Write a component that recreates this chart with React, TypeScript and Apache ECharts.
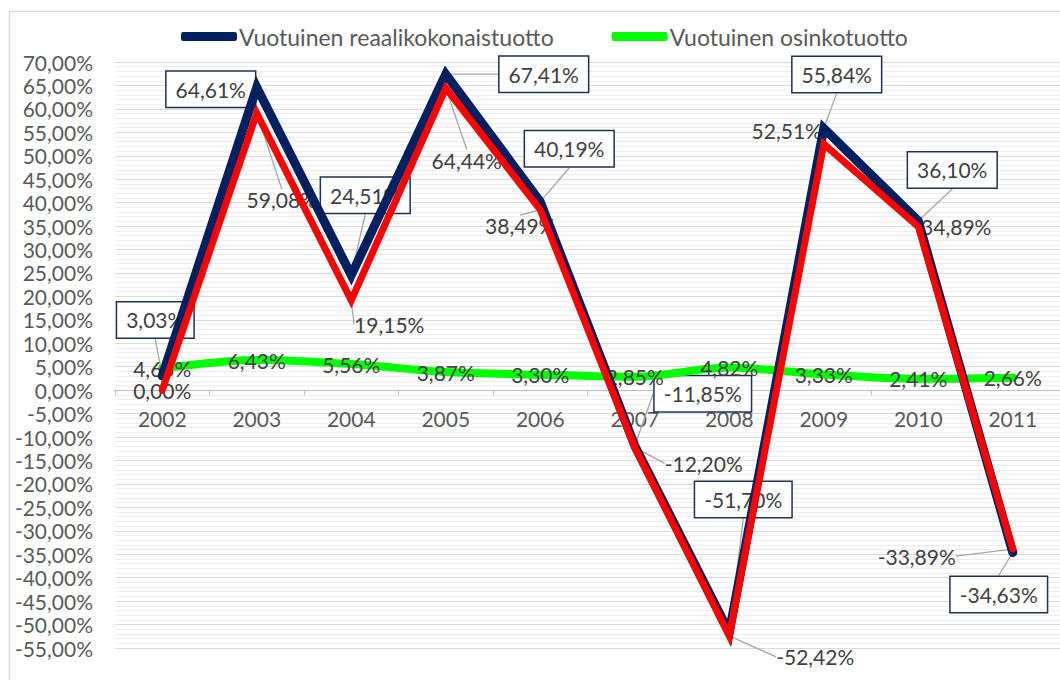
import React, { useEffect, useRef } from "react";
import * as echarts from "echarts";

const years = ["2002", "2003", "2004", "2005", "2006", "2007", "2008", "2009", "2010", "2011"];
const totalReturn = [3.03, 64.61, 24.51, 67.41, 40.19, -11.85, -51.7, 55.84, 36.1, -34.63];
const secondReturn = [0.0, 59.08, 19.15, 64.44, 38.49, -12.2, -52.42, 52.51, 34.89, -33.89];
const dividendYield = [4.63, 6.43, 5.56, 3.87, 3.3, 2.85, 4.82, 3.33, 2.41, 2.66];

const seriesNames = ["Vuotuinen reaalikokonaistuotto", "Vuotuinen osinkotuotto", "Toinen sarja"];

const Y_MIN = -55;
const Y_MAX = 70;
const Y_STEP = 5;

// label offsets (dx, dy) relative to the data point
const navyOffsets = [[-7, -56], [-46, 2], [14, -80], [98, 0], [29, -53], [68, -52], [14, -133], [13, -54], [34, -51], [-14, 42]];
const redOffsets = [[0, 0], [25, 86], [38, 24], [21, 72], [-20, 16], [69, 16], [86, 21], [-37, -13], [38, 0], [-96, 7]];

const FONT = "Lato";
const GRID_TOP = 62;
const GRID_HEIGHT = 586;
const fmt = (v: number) => v.toFixed(2).replace(".", ",") + "%";

export default function App() {
  const ref = useRef<HTMLDivElement>(null);
  useEffect(() => {
    if (!ref.current) return;
    const chart = echarts.init(ref.current, undefined, { renderer: "svg" });
    // move the category axis up to the zero line
    const zeroOffset = -((0 - Y_MIN) / (Y_MAX - Y_MIN)) * GRID_HEIGHT;
    const labelBase = {
      show: true,
      position: "inside",
      fontFamily: FONT,
      fontSize: 21,
      color: "#404040",
      formatter: (p: any) => fmt(p.value),
    };
    const carrier = (name: string, data: number[], label: any, offsets: number[][] | null, z: number, guide: boolean) => ({
      name,
      type: "line",
      data,
      z,
      symbol: "circle",
      symbolSize: 1,
      itemStyle: { color: "rgba(0,0,0,0)" },
      lineStyle: { width: 0, opacity: 0 },
      label,
      labelLine: guide ? { show: true, lineStyle: { color: "#a6a6a6", width: 1.3 } } : { show: false },
      labelLayout: offsets
        ? (p: any) => ({ dx: offsets[p.dataIndex][0], dy: offsets[p.dataIndex][1] })
        : undefined,
      silent: true,
    });
    chart.setOption({
      animation: false,
      backgroundColor: "#ffffff",
      graphic: [
        {
          type: "rect",
          silent: true,
          shape: { x: 9.5, y: 11.5, width: 1100, height: 720 },
          style: { fill: "none", stroke: "#d9d9d9", lineWidth: 1.5 },
        },
      ],
      legend: {
        data: [seriesNames[0], seriesNames[1]],
        left: 176,
        top: 20,
        itemWidth: 56,
        itemHeight: 9,
        itemGap: 58,
        icon: "roundRect",
        textStyle: { fontFamily: FONT, fontSize: 23, color: "#595959", padding: [0, 0, 0, -3] },
      },
      grid: { left: 115, top: GRID_TOP, width: 948, height: GRID_HEIGHT, containLabel: false },
      xAxis: {
        type: "category",
        data: years,
        boundaryGap: true,
        position: "bottom",
        offset: zeroOffset,
        axisLine: { show: true, onZero: false, lineStyle: { color: "#bfbfbf", width: 1 } },
        axisTick: { show: true, length: 5, lineStyle: { color: "#bfbfbf" } },
        axisLabel: { fontFamily: FONT, fontSize: 21, color: "#595959", margin: 18 },
        splitLine: { show: false },
      },
      yAxis: {
        type: "value",
        min: Y_MIN,
        max: Y_MAX,
        interval: Y_STEP,
        axisLine: { show: false },
        axisTick: { show: false },
        axisLabel: {
          fontFamily: FONT,
          fontSize: 21,
          color: "#595959",
          margin: 22,
          formatter: (v: number) => fmt(v),
        },
        splitLine: { lineStyle: { color: "#d9d9d9", width: 1 } },
        minorTick: { show: false, splitNumber: 5 },
        minorSplitLine: { show: true, lineStyle: { color: "#eeeeee", width: 1 } },
      },
      series: [
        // label carriers (drawn beneath the total-return lines)
        carrier("lbl-navy", totalReturn, {
          ...labelBase,
          backgroundColor: "#ffffff",
          borderColor: "#1f3050",
          borderWidth: 1.5,
          padding: [8, 9, 6, 9],
        }, navyOffsets, 1, true),
        carrier("lbl-red", secondReturn, { ...labelBase }, redOffsets, 1, true),
        {
          name: seriesNames[1],
          type: "line",
          data: dividendYield,
          z: 3,
          smooth: 0.3,
          symbol: "none",
          color: "#00ff00",
          lineStyle: { color: "#00ff00", width: 8, cap: "round" },
          silent: true,
        },
        carrier("lbl-green", dividendYield, { ...labelBase }, null, 4, false),
        {
          name: seriesNames[0],
          type: "line",
          data: totalReturn,
          z: 5,
          symbol: "none",
          color: "#002060",
          lineStyle: { color: "#002060", width: 9, cap: "round", join: "miter" },
          silent: true,
        },
        {
          name: seriesNames[2],
          type: "line",
          data: secondReturn,
          z: 6,
          symbol: "none",
          color: "#ff0000",
          lineStyle: { color: "#ff0000", width: 7, cap: "round", join: "miter" },
          silent: true,
        },
      ],
    });
    return () => chart.dispose();
  }, []);
  return (
    <div
      ref={ref}
      style={{ position: "fixed", left: 0, top: 0, width: 1060, height: 680, background: "#fff" }}
    />
  );
}
